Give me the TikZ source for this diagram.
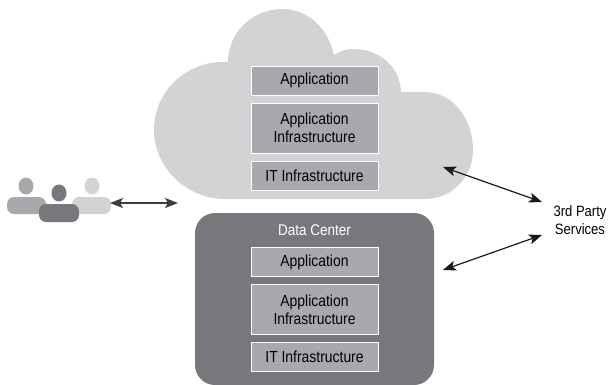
\documentclass[tikz,border=0pt]{standalone}
\usepackage{fontspec}
\setmainfont[FakeStretch=0.87]{Liberation Sans}
\usepackage{tikz}
\usetikzlibrary{shapes.geometric}
\usetikzlibrary{positioning}
\usetikzlibrary{arrows.meta}
\definecolor{lightgr}{HTML}{D1D3D4}
\definecolor{midgr}{HTML}{A7A9AC}
\definecolor{darkgr}{HTML}{77787B}

\begin{document}
\begin{tikzpicture}[x=1pt,y=-1pt,>={Stealth[length=13pt,width=10pt,inset=3pt]},node distance=8pt,
		layer node/.style={rectangle,draw=white,line width=0.9pt,fill=midgr,minimum width=127pt,minimum height=29pt,inner sep=0pt,outer sep=0pt,align=center,font=\fontsize{16}{18}\selectfont},
		body node/.style={rectangle,rounded corners=7pt,minimum width=39pt,minimum height=17pt,inner sep=0pt},
		head node/.style={ellipse,minimum width=15pt,minimum height=17pt,inner sep=0pt},
		link/.style={<->,line width=1.2pt,draw=black!90}]
		\useasboundingbox (0,0) rectangle (610,384);
		
		% cloud
		\fill[lightgr] (228,62) -- (223,62)
		.. controls (185,62) and (154,92) .. (154,130)
		.. controls (154,168) and (187,199) .. (225,199) -- (425,199)
		.. controls (452,199) and (473,177) .. (473,150)
		.. controls (473,118) and (452,92) .. (425,92) -- (401,92)
		.. controls (400,66) and (379,49) .. (353,49)
		.. controls (346,49) and (340,51) .. (334,55)
		.. controls (328,28) and (308,9) .. (282,9)
		.. controls (252,9) and (228,33) .. (228,62) -- cycle;
		
		% data center
		\node[rectangle,rounded corners=20pt,fill=darkgr,minimum width=239pt,minimum height=172pt,inner sep=0pt] (dc) at (314.5,299) {};
		\node[text=white,font=\fontsize{15.5}{17}\selectfont] (dclabel) at (314.5,230) {Data Center};
		
		\node[layer node] (a1) at (314.5,80.5) {Application};
		\node[layer node, minimum height=50pt] (a2) [below=of a1] {Application\\Infrastructure};
		\node[layer node] (a3) [below=of a2] {IT Infrastructure};
		
		\node[layer node] (b1) at (314.5,262) {Application};
		\node[layer node, minimum height=50pt] (b2) [below=of b1] {Application\\Infrastructure};
		\node[layer node] (b3) [below=of b2] {IT Infrastructure};
		
		% people
		\node[head node, fill=midgr] (h1) at (26,186) {};
		\node[head node, fill=lightgr] (h3) at (92,186) {};
		\node[body node, fill=midgr] (p1) at (26.5,205.5) {};
		\node[body node, fill=lightgr] (p3) at (91.5,205.5) {};
		\node[head node, fill=darkgr] (h2) at (59,193) {};
		\node[body node, fill=darkgr, minimum width=40pt, minimum height=18pt] (p2) at (59,213) {};
		
		\node[align=center,inner sep=0pt,font=\fontsize{15}{18}\selectfont] (svc) at (580,220) {3rd Party\\Services};
		
		\coordinate (u) at (110,203);
		\coordinate (v) at (178,203);
		\coordinate (c) at (443,167);
		\coordinate (s1) at (542,202);
		\coordinate (d) at (443,270);
		\coordinate (s2) at (542,235);
		
		\draw[link,line width=1.6pt,draw=darkgr!50!black] (u) -- (v);
		\draw[link] (c) -- (s1);
		\draw[link] (d) -- (s2);
		\end{tikzpicture}
\end{document}
